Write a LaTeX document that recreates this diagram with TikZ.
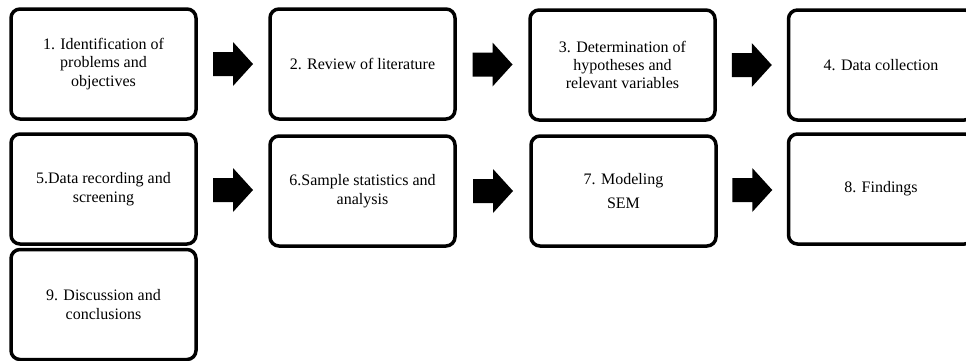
\documentclass[tikz,border=0pt]{standalone}
\usepackage{fontspec}
\setmainfont{Liberation Serif}
\usetikzlibrary{calc}
\tikzset{
  stepbox/.style={draw, line width=3.5pt, rounded corners=9pt, fill=white,
    minimum width=185pt, minimum height=110pt, align=center,
    font=\fontsize{16}{18.4}\selectfont},
}
\begin{document}
\begin{tikzpicture}[x=1pt,y=-1pt]
  % Page
  \clip (0,0) rectangle (966,360);
  \fill [white] (0,0) rectangle (966,360);
  % First row
  \node [stepbox] (b1) at (103.5,64) {1. Identification of\\problems and\\objectives};
  \node [stepbox] (b2) at (362.5,64) {2. Review of literature};
  \node [stepbox] (b3) at (622.5,65) {3. Determination of\\hypotheses and\\relevant variables};
  \node [stepbox] (b4) at (881,65) {4. Data collection};
  % Second row
  \node [stepbox] (b5) at (103.5,189) {5.Data recording and\\screening};
  \node [stepbox] (b6) at (362.5,191) {6.Sample statistics and\\analysis};
  \node [stepbox] (b7) at (623.5,191) {7. Modeling\\[5pt]SEM};
  \node [stepbox] (b8) at (881,189) {8. Findings};
  % Last step
  \node [stepbox] (b9) at (103.5,304.5) {9. Discussion and\\conclusions};
  % Block arrows between the steps
  \foreach \src/\dst in {b1/b2,b2/b3,b3/b4,b5/b6,b6/b7,b7/b8}
    \fill ($(\src.east)!0.5!(\dst.west)$) ++(-20,-12) -- ++(20,0) -- ++(0,-10)
      -- ++(20,22) -- ++(-20,22) -- ++(0,-10) -- ++(-20,0) -- cycle;
\end{tikzpicture}
\end{document}
